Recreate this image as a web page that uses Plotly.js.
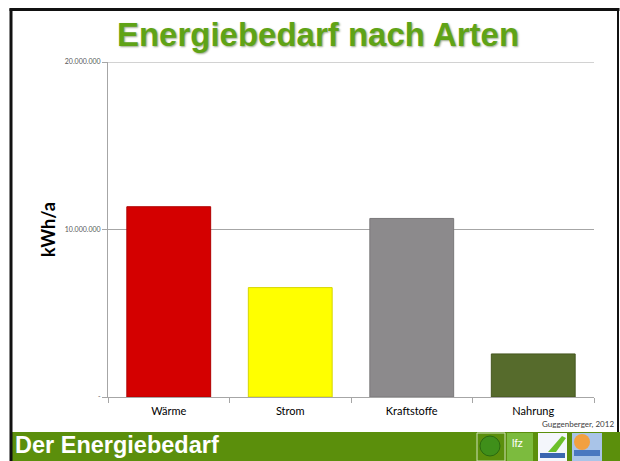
<!DOCTYPE html>
<html>
<head>
<meta charset="utf-8">
<script src="https://cdn.plot.ly/plotly-3.0.1.min.js"></script>
<style>html,body{margin:0;padding:0;background:#fff;}#chart{width:620px;height:461px;}</style>
</head>
<body>
<div id="chart"></div>
<script>
// ---- data ----
const categories = ["Wärme", "Strom", "Kraftstoffe", "Nahrung"];
const values = [11360000, 6530000, 10660000, 2570000];
const yTickVals = [0, 10000000, 20000000];
const yTickText = ["-", "10.000.000", "20.000.000"];

// ---- styles ----
const barColors = ["#d40000", "#ffff00", "#8c8a8c", "#566b2c"];
const barEdges = ["#b00000", "#d6d600", "#7a787a", "#45571f"];

const W = 620, H = 461;
const L = 108, R = 26, T = 62, B = 64;
const pw = W - L - R, ph = H - T - B;
const px = x => (x - L) / pw;
const py = y => (H - B - y) / ph;

const shapes = [
  // top gridline at the highest tick value
  {type: "line", xref: "paper", yref: "y", x0: 0, x1: 1,
   y0: yTickVals[yTickVals.length - 1], y1: yTickVals[yTickVals.length - 1],
   line: {color: "#a6a6a6", width: 1}, layer: "below"},
  // footer band
  {type: "rect", xref: "paper", yref: "paper", x0: px(12), x1: px(621), y0: py(432), y1: py(462),
   fillcolor: "#5b8f0c", line: {width: 0}, layer: "below"},
  // black frame
  {type: "line", xref: "paper", yref: "paper", x0: px(11), x1: px(11), y0: py(8.5), y1: py(462), line: {color: "#111", width: 3}},
  {type: "line", xref: "paper", yref: "paper", x0: px(9.5), x1: px(619.5), y0: py(9.5), y1: py(9.5), line: {color: "#111", width: 3}},
  {type: "line", xref: "paper", yref: "paper", x0: px(618), x1: px(618), y0: py(8.5), y1: py(432), line: {color: "#111", width: 2}},
  // logos (approximations)
  {type: "circle", xref: "paper", yref: "paper", x0: px(480), x1: px(500), y0: py(436), y1: py(456),
   fillcolor: "#3f8f1a", line: {color: "#2a6a10", width: 1}},
  {type: "rect", xref: "paper", yref: "paper", x0: px(477), x1: px(505), y0: py(433), y1: py(461),
   fillcolor: "rgba(0,0,0,0)", line: {color: "#cfe0b8", width: 1}},
  {type: "rect", xref: "paper", yref: "paper", x0: px(507), x1: px(533), y0: py(433), y1: py(461),
   fillcolor: "#7cbb3e", line: {width: 0}},
  {type: "rect", xref: "paper", yref: "paper", x0: px(538), x1: px(567), y0: py(433), y1: py(461),
   fillcolor: "#f4f6fb", line: {width: 0}},
  {type: "path", xref: "paper", yref: "paper",
   path: `M ${px(548)} ${py(452)} L ${px(562)} ${py(436)} L ${px(566)} ${py(438)} L ${px(556)} ${py(452)} Z`,
   fillcolor: "#6cc02a", line: {width: 0}},
  {type: "rect", xref: "paper", yref: "paper", x0: px(540), x1: px(565), y0: py(453), y1: py(458),
   fillcolor: "#3a66b0", line: {width: 0}},
  {type: "rect", xref: "paper", yref: "paper", x0: px(572), x1: px(602), y0: py(433), y1: py(461),
   fillcolor: "#a9c4e8", line: {width: 0}},
  {type: "circle", xref: "paper", yref: "paper", x0: px(574), x1: px(590), y0: py(434), y1: py(450),
   fillcolor: "#f2a040", line: {width: 0}},
  {type: "rect", xref: "paper", yref: "paper", x0: px(574), x1: px(600), y0: py(450), y1: py(456),
   fillcolor: "#4a78c0", line: {width: 0}}
];

const annotations = [
  {text: "Der Energiebedarf", xref: "paper", yref: "paper", x: px(13), y: py(445),
   xanchor: "left", yanchor: "middle", showarrow: false,
   font: {family: "Liberation Sans, Arial, sans-serif", size: 23.5, color: "#ffffff", weight: "bold"}},
  {text: "Guggenberger, 2012", xref: "paper", yref: "paper", x: px(616), y: py(424),
   xanchor: "right", yanchor: "middle", showarrow: false,
   font: {family: "Lato, sans-serif", size: 8, color: "#404040"}},
  {text: "lfz", xref: "paper", yref: "paper", x: px(510), y: py(443),
   xanchor: "left", yanchor: "middle", showarrow: false,
   font: {family: "Liberation Sans, sans-serif", size: 11, color: "#ffffff"}}
];

const trace = {
  type: "bar",
  x: categories,
  y: values,
  width: 0.69,
  marker: {color: barColors, line: {color: barEdges, width: 1}},
  hoverinfo: "x+y"
};

const layout = {
  width: W, height: H,
  margin: {l: L, r: R, t: T, b: B, pad: 0},
  paper_bgcolor: "#ffffff",
  plot_bgcolor: "#ffffff",
  showlegend: false,
  title: {
    text: "Energiebedarf nach Arten",
    x: 318 / W, xref: "container", xanchor: "center",
    y: 1 - 34.5 / H, yref: "container", yanchor: "middle",
    font: {family: "Liberation Sans, Arial, sans-serif", size: 33, color: "#5fa316", weight: "bold",
           shadow: "1px 1px 2px #9aa88a"}
  },
  xaxis: {
    type: "category",
    showline: true, linecolor: "#a6a6a6", linewidth: 1,
    ticks: "outside", tickson: "boundaries", ticklen: 5, tickcolor: "#a6a6a6",
    ticklabelstandoff: 4,
    tickfont: {family: "Lato, sans-serif", size: 11, color: "#000"},
    showgrid: false, zeroline: false, fixedrange: true
  },
  yaxis: {
    range: [0, 20000000],
    tickvals: yTickVals, ticktext: yTickText,
    showline: true, linecolor: "#a6a6a6", linewidth: 1,
    ticks: "outside", ticklen: 5, tickcolor: "#a6a6a6",
    tickfont: {family: "Lato, sans-serif", size: 7, color: "#595959"},
    showgrid: true, gridcolor: "#a6a6a6", gridwidth: 1,
    zeroline: false, fixedrange: true,
    title: {text: "kWh/a", standoff: 4,
            font: {family: "Lato, sans-serif", size: 18, color: "#000", weight: "bold"}}
  },
  shapes: shapes,
  annotations: annotations
};

Plotly.newPlot("chart", [trace], layout, {displayModeBar: false, staticPlot: true});
</script>
</body>
</html>
